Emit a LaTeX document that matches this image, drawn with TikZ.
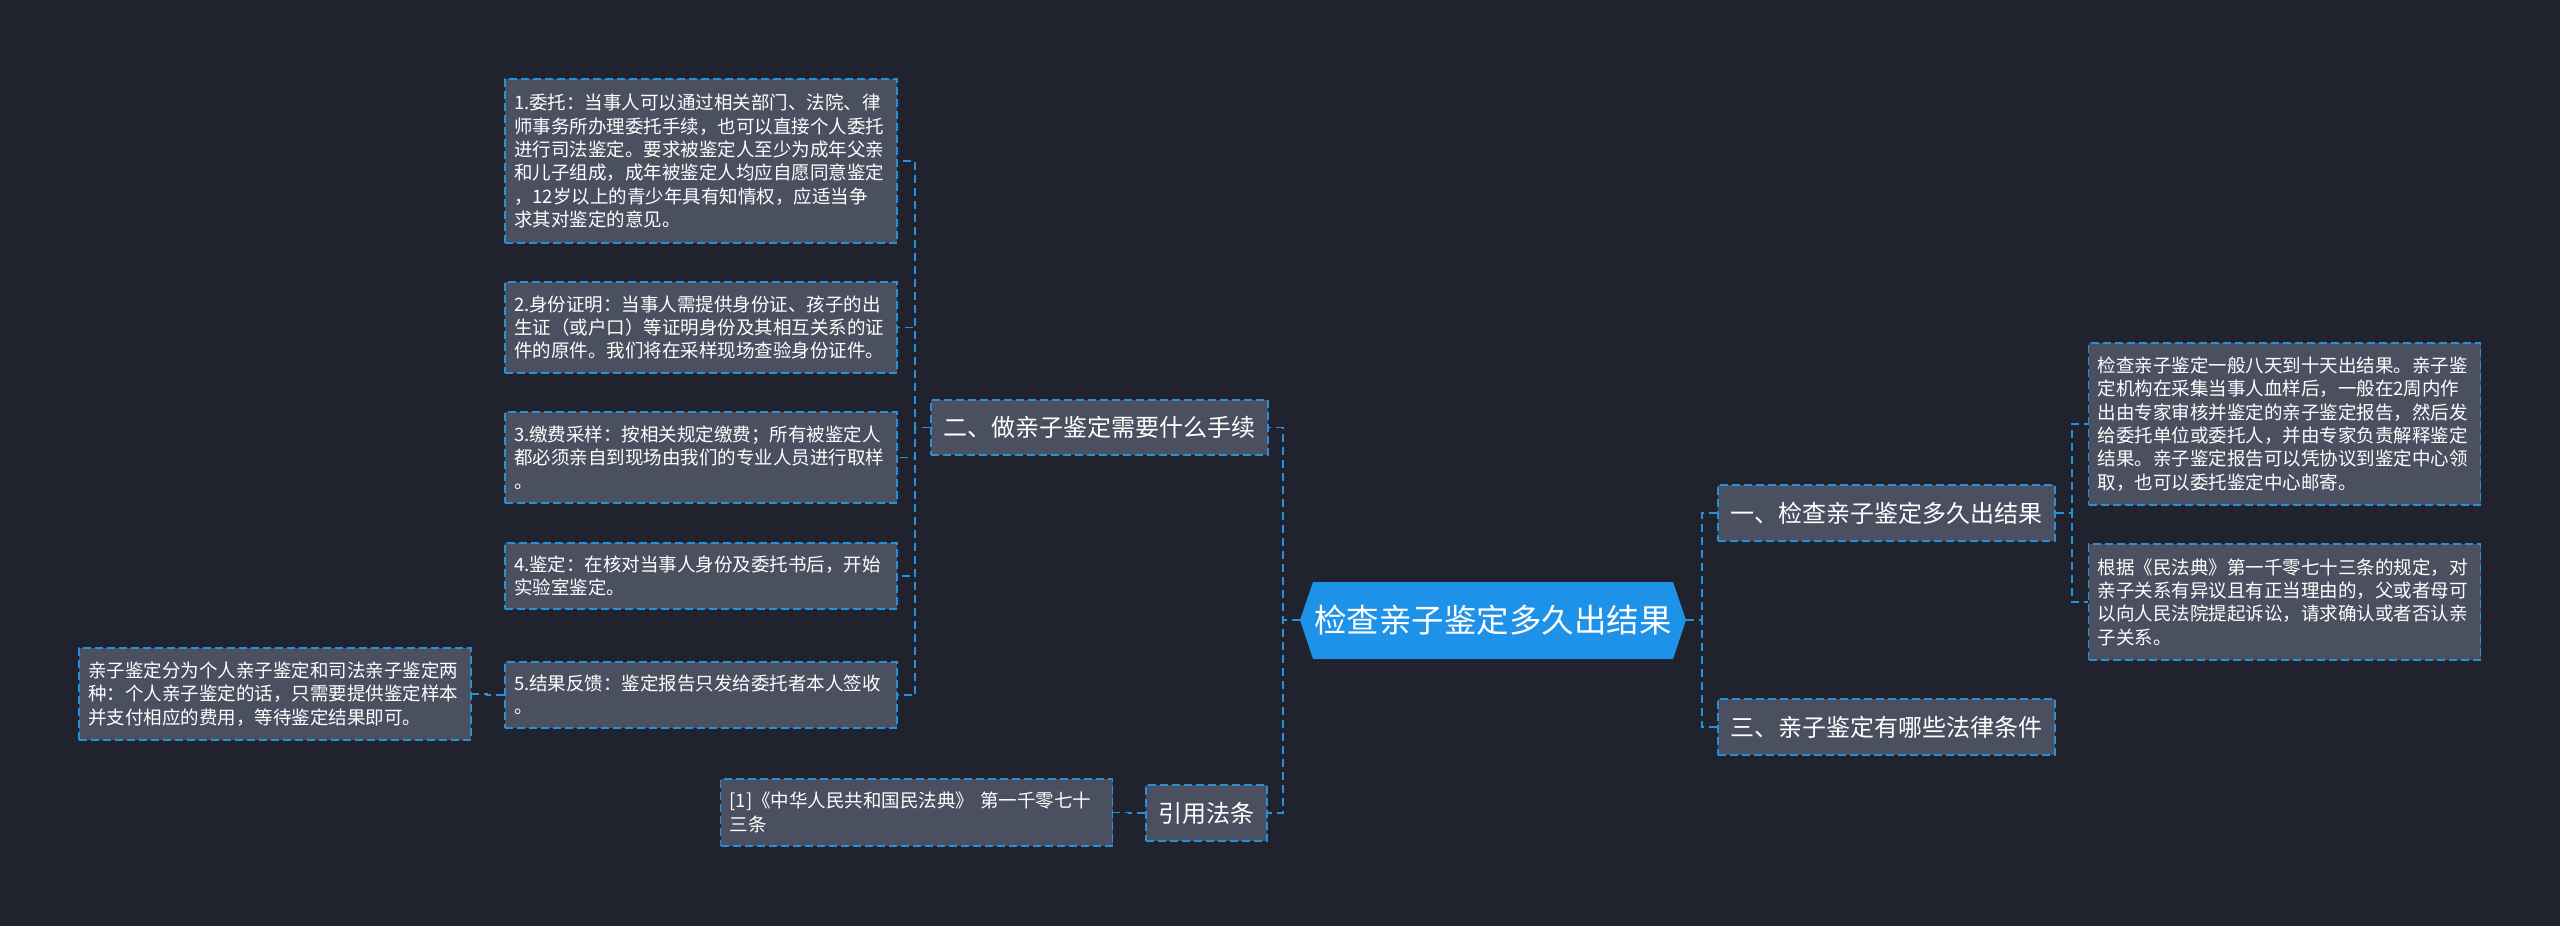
\documentclass[tikz,border=0pt]{standalone}
\usepackage{fontspec}
\setmainfont{Noto Sans CJK SC}
\definecolor{bgc}{RGB}{32,35,45}
\definecolor{boxfill}{RGB}{74,80,95}
\definecolor{dashblue}{RGB}{40,143,218}
\definecolor{rootblue}{RGB}{30,146,232}
\tikzset{
  box/.style={rectangle, draw=dashblue, line width=1.6pt, dash pattern=on 8pt off 4pt, fill=boxfill, text=white},
  leaf/.style={box, font=\fontsize{18.5}{23.3}\selectfont, align=left, text width=374pt, inner xsep=9pt, inner ysep=0pt},
  topic/.style={box, font=\fontsize{24}{28}\selectfont, inner sep=0pt, align=center},
  rootnode/.style={rectangle, inner sep=0pt, text=white, font=\fontsize{32.5}{38}\selectfont, minimum width=386pt, minimum height=77pt},
  conn/.style={draw=dashblue, line width=1.6pt, dash pattern=on 8pt off 5pt},
}
\begin{document}
\begin{tikzpicture}[x=1pt,y=-1pt]
\useasboundingbox (0,0) rectangle (2560,926);
\fill[bgc] (0,0) rectangle (2560,926);
% root
\fill[rootblue] (1300,620) -- (1313,582) -- (1673,582) -- (1686,620) -- (1673,659) -- (1313,659) -- cycle;
\node[rootnode] (root) at (1493,620) {检查亲子鉴定多久出结果};
% level 1
\node[topic, minimum width=337pt, minimum height=55pt] (b2) at (1099.5,427.5) {二、做亲子鉴定需要什么手续};
\node[topic, minimum width=121pt, minimum height=56pt] (cite) at (1206.5,813) {引用法条};
\node[topic, minimum width=337pt, minimum height=56pt] (b1) at (1886.5,513) {一、检查亲子鉴定多久出结果};
\node[topic, minimum width=337pt, minimum height=56pt] (b3) at (1886.5,727) {三、亲子鉴定有哪些法律条件};
% leaves left
\node[leaf, minimum height=164pt] (n1) at (701,161) {1.委托：当事人可以通过相关部门、法院、律\\师事务所办理委托手续，也可以直接个人委托\\进行司法鉴定。要求被鉴定人至少为成年父亲\\和儿子组成，成年被鉴定人均应自愿同意鉴定\\，12岁以上的青少年具有知情权，应适当争\\求其对鉴定的意见。};
\node[leaf, minimum height=91pt] (n2) at (701,327.5) {2.身份证明：当事人需提供身份证、孩子的出\\生证（或户口）等证明身份及其相互关系的证\\件的原件。我们将在采样现场查验身份证件。};
\node[leaf, minimum height=91pt] (n3) at (701,457.5) {3.缴费采样：按相关规定缴费；所有被鉴定人\\都必须亲自到现场由我们的专业人员进行取样\\。};
\node[leaf, minimum height=66pt] (n4) at (701,576) {4.鉴定：在核对当事人身份及委托书后，开始\\实验室鉴定。};
\node[leaf, minimum height=66pt] (n5) at (701,695) {5.结果反馈：鉴定报告只发给委托者本人签收\\。};
\node[leaf, minimum height=92pt] (nq) at (275,694) {亲子鉴定分为个人亲子鉴定和司法亲子鉴定两\\种：个人亲子鉴定的话，只需要提供鉴定样本\\并支付相应的费用，等待鉴定结果即可。};
\node[leaf, minimum height=67pt] (nr) at (916.5,812.5) {[1]《中华人民共和国民法典》~第一千零七十\\三条};
% leaves right
\node[leaf, minimum height=162pt] (r1) at (2284.5,424) {检查亲子鉴定一般八天到十天出结果。亲子鉴\\定机构在采集当事人血样后，一般在2周内作\\出由专家审核并鉴定的亲子鉴定报告，然后发\\给委托单位或委托人，并由专家负责解释鉴定\\结果。亲子鉴定报告可以凭协议到鉴定中心领\\取，也可以委托鉴定中心邮寄。};
\node[leaf, minimum height=116pt] (r2) at (2284.5,602) {根据《民法典》第一千零七十三条的规定，对\\亲子关系有异议且有正当理由的，父或者母可\\以向人民法院提起诉讼，请求确认或者否认亲\\子关系。};
% connectors
\draw[conn] (root.west) -- ++(-17,0) |- (b2.east);
\draw[conn] (root.west) -- ++(-17,0) |- (cite.east);
\draw[conn] (root.east) -- ++(16,0) |- (b1.west);
\draw[conn] (root.east) -- ++(16,0) |- (b3.west);
\foreach \c in {n1,n2,n3,n4,n5}
  \draw[conn] (b2.west) -- ++(-15,0) |- (\c.east);
\draw[conn] (n5.west) -- ++(-17,0) |- (nq.east);
\draw[conn] (cite.west) -- ++(-16,0) |- (nr.east);
\foreach \c in {r1,r2}
  \draw[conn] (b1.east) -- ++(16,0) |- (\c.west);
\end{tikzpicture}
\end{document}
